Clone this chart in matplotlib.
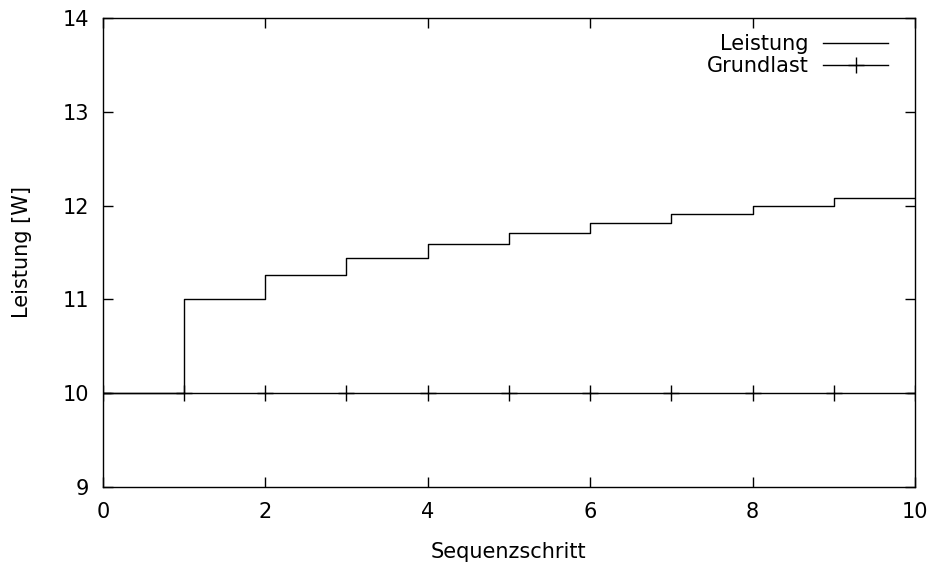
import matplotlib
matplotlib.use("Agg")
import matplotlib.pyplot as plt

schritte = [0, 1, 2, 3, 4, 5, 6, 7, 8, 9, 10]
leistung = [10.0, 11.0, 11.26, 11.44, 11.59, 11.71, 11.81, 11.91, 12.0, 12.08, 12.08]
grundlast = [10.0] * 11

plt.rcParams['font.family'] = ['DejaVu Sans']
fig = plt.figure(figsize=(9.35, 5.62), dpi=100)
ax = fig.add_axes([0.110, 0.1335, 0.8686, 0.8345])

ax.step(schritte, leistung, where='post', color='black', linewidth=1.0, label='Leistung')
ax.plot(schritte, grundlast, color='black', linewidth=1.0, marker='+', markersize=12,
        markeredgewidth=1.0, label='Grundlast')

ax.set_xlim(0, 10)
ax.set_ylim(9, 14)
ax.set_xticks([0, 2, 4, 6, 8, 10])
ax.set_yticks([9, 10, 11, 12, 13, 14])
ax.tick_params(direction='in', length=7, width=1.0, top=True, right=True, labelsize=15)
ax.tick_params(axis='x', pad=11)
ax.tick_params(axis='y', pad=10)
for s in ax.spines.values():
    s.set_linewidth(1.0)

ax.set_xlabel('Sequenzschritt', fontsize=15, labelpad=14)
ax.set_ylabel('Leistung [W]', fontsize=15, labelpad=22)

ax.legend(loc='upper right', bbox_to_anchor=(1.0, 1.0 + 11 / 469.0),
          frameon=False, markerfirst=False, fontsize=15,
          handlelength=3.1, handletextpad=0.7, labelspacing=0.1,
          borderaxespad=0.9)

fig.savefig('out.png', dpi=100)
